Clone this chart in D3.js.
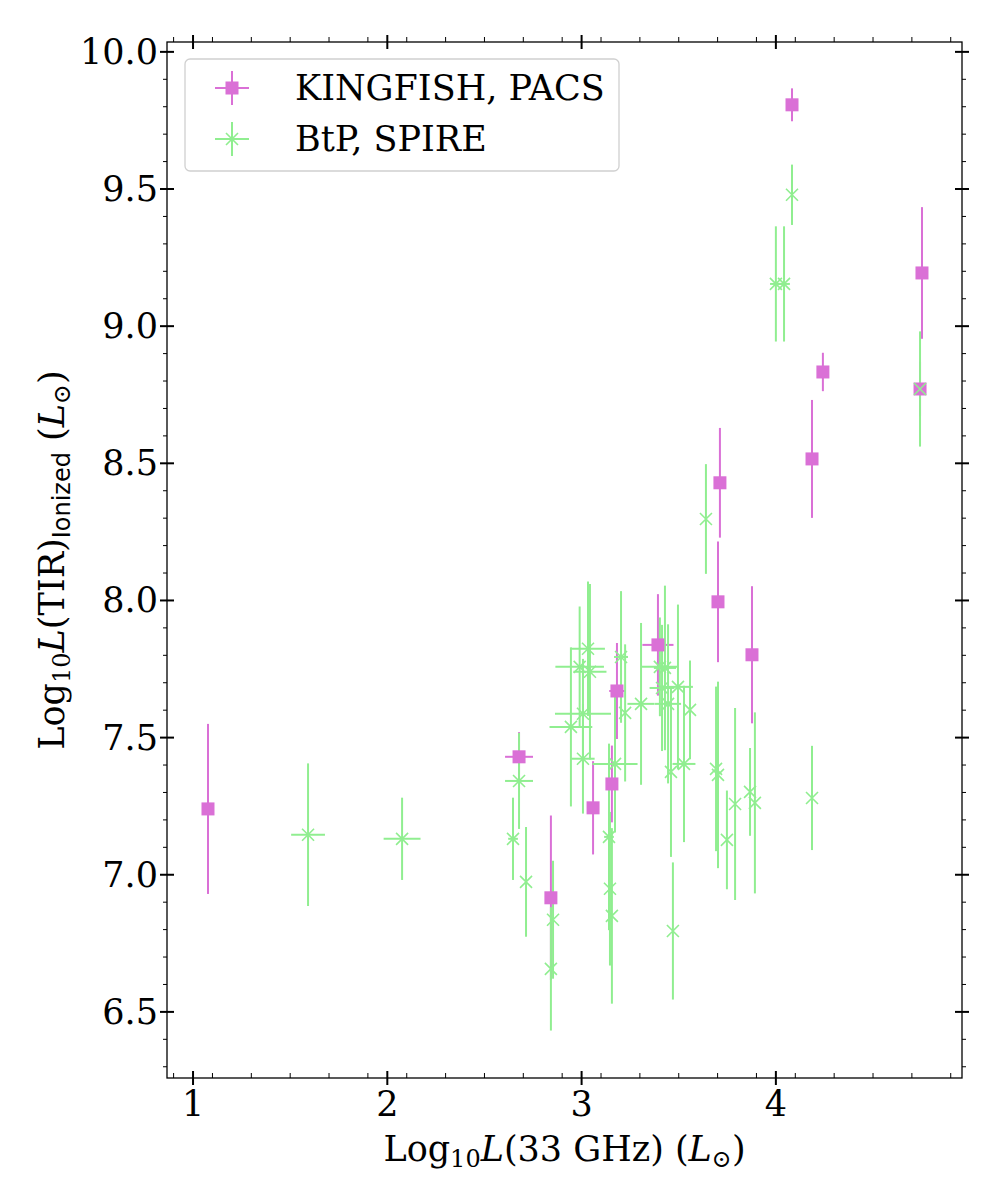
<!DOCTYPE html>
<html>
<head>
<meta charset="utf-8">
<script src="https://cdn.jsdelivr.net/npm/d3@7"></script>
<style>
  body { margin: 0; background: #fff; }
  text { font-family: "DejaVu Serif", serif; }
</style>
</head>
<body>
<div id="chart"></div>
<script>
// KINGFISH, PACS
const kfX    = [1.077, 2.678, 2.842, 3.059, 3.156, 3.182, 3.393, 3.702, 3.712, 3.877, 4.083, 4.186, 4.242, 4.752, 4.742];
const kfY    = [7.240, 7.430, 6.916, 7.244, 7.331, 7.670, 7.838, 7.995, 8.429, 7.802, 9.807, 8.516, 8.833, 9.194, 8.771];
const kfXErr = [0, 0.072, 0, 0, 0, 0.04, 0.08, 0, 0, 0, 0, 0, 0, 0, 0];
const kfYErr = [0.31, 0.09, 0.30, 0.17, 0.14, 0.175, 0.185, 0.22, 0.20, 0.25, 0.06, 0.215, 0.07, 0.24, 0.10];

// BtP, SPIRE
const btpX    = [1.592, 2.076, 2.647, 2.714, 2.853, 2.842, 2.678, 2.945, 3.007, 3.007, 2.990, 3.033, 3.043,
                 3.203, 3.224, 3.172, 3.306, 3.403, 3.429, 3.414, 3.445, 3.496, 3.558, 3.460, 3.527,
                 3.692, 3.702, 3.748, 3.790, 3.867, 3.892, 4.186, 3.141, 3.146, 3.156,
                 4.083, 4.000, 4.042, 4.742, 3.640, 3.470];
const btpY    = [7.146, 7.131, 7.131, 6.974, 6.836, 6.657, 7.342, 7.539, 7.423, 7.587, 7.758, 7.824, 7.740,
                 7.794, 7.590, 7.404, 7.623, 7.758, 7.754, 7.681, 7.623, 7.685, 7.601, 7.375, 7.404,
                 7.386, 7.364, 7.127, 7.258, 7.302, 7.262, 7.280, 7.138, 6.949, 6.850,
                 9.479, 9.154, 9.154, 8.771, 8.297, 6.795];
const btpXErr = [0.087, 0.095, 0.025, 0, 0, 0, 0.072, 0.11, 0.06, 0.144, 0.125, 0.087, 0.085,
                 0.036, 0, 0.116, 0.07, 0.092, 0.057, 0.064, 0.067, 0.077, 0, 0, 0.059,
                 0, 0, 0, 0, 0, 0, 0, 0.025, 0, 0,
                 0, 0.03, 0.03, 0, 0, 0];
const btpYErr = [0.26, 0.15, 0.15, 0.20, 0.215, 0.225, 0.175, 0.29, 0.20, 0.20, 0.22, 0.245, 0.32,
                 0.24, 0.25, 0.25, 0.295, 0.18, 0.30, 0.23, 0.29, 0.30, 0.18, 0.31, 0.285,
                 0.30, 0.34, 0.18, 0.35, 0.16, 0.33, 0.19, 0.34, 0.28, 0.32,
                 0.11, 0.21, 0.21, 0.21, 0.20, 0.25];

const xTicks = [1, 2, 3, 4];
const yTicks = [6.5, 7.0, 7.5, 8.0, 8.5, 9.0, 9.5, 10.0];

const width = 1000, height = 1200;
const margin = { top: 42, right: 38, bottom: 122, left: 167 };
const kfColor = "#da70d6", btpColor = "#90ee90";

const svg = d3.select("#chart").append("svg")
    .attr("width", width)
    .attr("height", height);

const x = d3.scaleLinear()
    .domain([0.866, 4.958])
    .range([margin.left, width - margin.right]);
const y = d3.scaleLinear()
    .domain([6.259, 10.036])
    .range([height - margin.bottom, margin.top]);

const kf = kfX.map((v, i) => ({ x: v, y: kfY[i], xe: kfXErr[i], ye: kfYErr[i] }));
const btp = btpX.map((v, i) => ({ x: v, y: btpY[i], xe: btpXErr[i], ye: btpYErr[i] }));

// error bars go under every marker (like matplotlib's zorder)
function drawBars(data, color) {
    const g = svg.append("g").attr("stroke", color).attr("stroke-width", 2);
    g.selectAll(".ye").data(data).join("line")
        .attr("x1", d => x(d.x)).attr("x2", d => x(d.x))
        .attr("y1", d => y(d.y - d.ye)).attr("y2", d => y(d.y + d.ye));
    g.selectAll(".xe").data(data.filter(d => d.xe > 0)).join("line")
        .attr("x1", d => x(d.x - d.xe)).attr("x2", d => x(d.x + d.xe))
        .attr("y1", d => y(d.y)).attr("y2", d => y(d.y));
}
drawBars(kf, kfColor);
drawBars(btp, btpColor);

const sq = 13;
svg.append("g").selectAll("rect").data(kf).join("rect")
    .attr("x", d => x(d.x) - sq / 2)
    .attr("y", d => y(d.y) - sq / 2)
    .attr("width", sq).attr("height", sq)
    .attr("fill", kfColor);

const xs = 6;
const cross = `M${-xs},${-xs}L${xs},${xs}M${-xs},${xs}L${xs},${-xs}`;
svg.append("g").selectAll("path").data(btp).join("path")
    .attr("transform", d => `translate(${x(d.x)},${y(d.y)})`)
    .attr("d", cross)
    .attr("stroke", btpColor)
    .attr("stroke-width", 1.6)
    .attr("fill", "none");

// axes: major ticks cross the frame, minor ticks are short
const fs = 35, fsSub = 24;
const x0 = margin.left, x1 = width - margin.right;
const y0 = height - margin.bottom, y1 = margin.top;
const axes = svg.append("g").attr("stroke", "#000");

const xMinor = d3.range(0.9, 4.96, 0.2).filter(v => xTicks.every(t => Math.abs(t - v) > 1e-6));
const yMinor = d3.range(6.3, 10.04, 0.1).filter(v => yTicks.every(t => Math.abs(t - v) > 1e-6));

xTicks.forEach(t => {
    [y0, y1].forEach(yy => axes.append("line")
        .attr("x1", x(t)).attr("x2", x(t))
        .attr("y1", yy - 7).attr("y2", yy + 7).attr("stroke-width", 2));
});
yTicks.forEach(t => {
    [x0, x1].forEach(xx => axes.append("line")
        .attr("y1", y(t)).attr("y2", y(t))
        .attr("x1", xx - 7).attr("x2", xx + 7).attr("stroke-width", 2));
});
xMinor.forEach(t => {
    axes.append("line").attr("x1", x(t)).attr("x2", x(t))
        .attr("y1", y0).attr("y2", y0 - 5).attr("stroke-width", 1);
    axes.append("line").attr("x1", x(t)).attr("x2", x(t))
        .attr("y1", y1).attr("y2", y1 - 5).attr("stroke-width", 1);
});
yMinor.forEach(t => {
    axes.append("line").attr("y1", y(t)).attr("y2", y(t))
        .attr("x1", x0).attr("x2", x0 - 4).attr("stroke-width", 1);
    axes.append("line").attr("y1", y(t)).attr("y2", y(t))
        .attr("x1", x1).attr("x2", x1 + 4).attr("stroke-width", 1);
});
svg.append("rect")
    .attr("x", x0).attr("y", y1)
    .attr("width", x1 - x0).attr("height", y0 - y1)
    .attr("fill", "none").attr("stroke", "#000").attr("stroke-width", 1.3);

svg.append("g").selectAll("text").data(xTicks).join("text")
    .attr("x", d => x(d)).attr("y", y0 + 38)
    .attr("text-anchor", "middle")
    .attr("font-size", fs)
    .text(d => d);
svg.append("g").selectAll("text").data(yTicks).join("text")
    .attr("x", x0 - 9).attr("y", d => y(d) + 12)
    .attr("text-anchor", "end")
    .attr("font-size", fs)
    .text(d => d.toFixed(1));

// axis labels
const xl = svg.append("text")
    .attr("x", (x0 + x1) / 2).attr("y", 1161)
    .attr("text-anchor", "middle")
    .attr("font-size", fs);
xl.append("tspan").text("Log");
xl.append("tspan").attr("font-size", fsSub).attr("dy", 6).text("10");
xl.append("tspan").attr("font-style", "italic").attr("dy", -6).text("L");
xl.append("tspan").text("(33 GHz) (");
xl.append("tspan").attr("font-style", "italic").text("L");
xl.append("tspan").attr("font-size", fsSub).attr("dy", 6).text("⊙");
xl.append("tspan").attr("dy", -6).text(")");

const yl = svg.append("text")
    .attr("transform", `translate(64,${(y0 + y1) / 2}) rotate(-90)`)
    .attr("text-anchor", "middle")
    .attr("font-size", fs);
yl.append("tspan").text("Log");
yl.append("tspan").attr("font-size", fsSub).attr("dy", 6).text("10");
yl.append("tspan").attr("font-style", "italic").attr("dy", -6).text("L");
yl.append("tspan").text("(TIR)");
yl.append("tspan").attr("font-size", fsSub).attr("dy", 6)
    .style("font-family", "'DejaVu Sans', sans-serif").text("Ionized");
yl.append("tspan").attr("dy", -6).text(" (");
yl.append("tspan").attr("font-style", "italic").text("L");
yl.append("tspan").attr("font-size", fsSub).attr("dy", 6).text("⊙");
yl.append("tspan").attr("dy", -6).text(")");

// legend
const lg = svg.append("g");
lg.append("rect")
    .attr("x", 185).attr("y", 59).attr("width", 434).attr("height", 112)
    .attr("rx", 5)
    .attr("fill", "#fff").attr("fill-opacity", 0.8)
    .attr("stroke", "#d0d0d0").attr("stroke-width", 1.3);
const legendItems = [
    { label: "KINGFISH, PACS", color: kfColor, marker: "square", cy: 88 },
    { label: "BtP, SPIRE", color: btpColor, marker: "cross", cy: 139 }
];
legendItems.forEach(it => {
    const cx = 232;
    lg.append("line").attr("x1", cx - 17).attr("x2", cx + 17)
        .attr("y1", it.cy).attr("y2", it.cy)
        .attr("stroke", it.color).attr("stroke-width", 2);
    lg.append("line").attr("x1", cx).attr("x2", cx)
        .attr("y1", it.cy - 17).attr("y2", it.cy + 17)
        .attr("stroke", it.color).attr("stroke-width", 2);
    if (it.marker === "square") {
        lg.append("rect").attr("x", cx - sq / 2).attr("y", it.cy - sq / 2)
            .attr("width", sq).attr("height", sq).attr("fill", it.color);
    } else {
        lg.append("path").attr("transform", `translate(${cx},${it.cy})`)
            .attr("d", cross).attr("stroke", it.color)
            .attr("stroke-width", 1.6).attr("fill", "none");
    }
    lg.append("text").attr("x", 295).attr("y", it.cy + 12)
        .attr("font-size", fs).text(it.label);
});
</script>
</body>
</html>
